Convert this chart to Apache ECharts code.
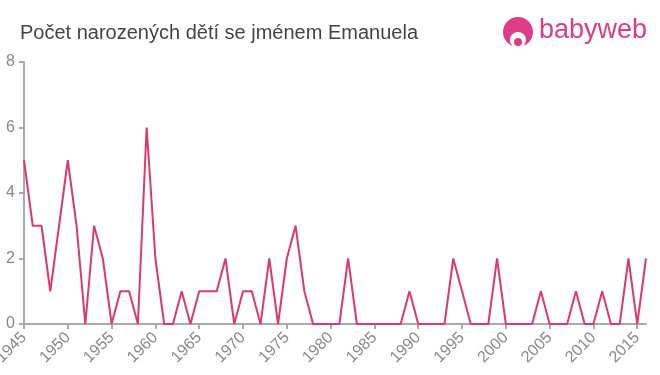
<!DOCTYPE html>
<html><head><meta charset="utf-8">
<script src="https://cdn.jsdelivr.net/npm/echarts@6/dist/echarts.min.js"></script>
<style>html,body{margin:0;padding:0;background:#fff}#c{width:660px;height:375px}</style>
</head><body><div id="c"></div>
<script>
const years = [];
for (let y = 1945; y <= 2016; y++) years.push(String(y));
const counts = [5,3,3,1,3,5,3,0,3,2,0,1,1,0,6,2,0,0,1,0,1,1,1,2,0,1,1,0,2,0,2,3,1,0,0,0,0,2,0,0,0,0,0,0,1,0,0,0,0,2,1,0,0,0,2,0,0,0,0,1,0,0,0,1,0,0,1,0,0,2,0,2];
const yTicks = [0,2,4,6,8];
const chart = echarts.init(document.getElementById('c'), null, {renderer:'canvas'});
chart.setOption({
  animation:false,
  title:{text:'Počet narozených dětí se jménem Emanuela', left:15, top:18,
    textStyle:{fontFamily:'Liberation Sans', fontSize:20, fontWeight:'normal', color:'#444'}},
  graphic:[
    {type:'circle', shape:{cx:518, cy:32, r:15}, style:{fill:'#dd3d86'}},
    {type:'circle', shape:{cx:518, cy:40, r:8}, style:{fill:'#fff'}},
    {type:'circle', shape:{cx:518, cy:42, r:4}, style:{fill:'#dd3d86'}},
    {type:'text', left:539, top:17, style:{text:'babyweb', fontFamily:'Liberation Sans', fontSize:27, fill:'#dd3d86'}}
  ],
  grid:{left:24, right:14, top:62, bottom:51, containLabel:false, outerBoundsMode:'none'},
  xAxis:{type:'category', data:years, boundaryGap:false,
    axisLine:{lineStyle:{color:'#aaa', width:2}},
    axisTick:{interval:4, length:5, lineStyle:{color:'#aaa', width:2}},
    axisLabel:{interval:4, rotate:45, fontFamily:'Liberation Sans', fontSize:16, color:'#888', margin:11}},
  yAxis:{type:'value', min:0, max:8, interval:2,
    splitLine:{show:false},
    axisLine:{show:true, lineStyle:{color:'#aaa', width:2}},
    axisTick:{show:true, length:5, lineStyle:{color:'#aaa', width:2}},
    axisLabel:{fontFamily:'Liberation Sans', fontSize:16, color:'#888', margin:9,
      formatter:v=>yTicks.includes(v)?String(v):''}},
  series:[{type:'line', data:counts, showSymbol:false, lineStyle:{color:'#dc3a6c', width:2}}]
});
</script></body></html>
